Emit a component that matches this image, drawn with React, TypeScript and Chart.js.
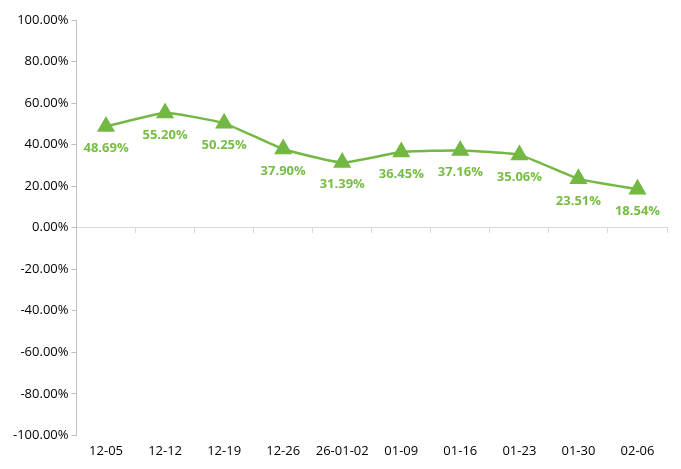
import React, { useEffect, useRef } from "react";
import { Chart, registerables } from "chart.js";

Chart.register(...registerables);

const categories = ["12-05", "12-12", "12-19", "12-26", "26-01-02", "01-09", "01-16", "01-23", "01-30", "02-06"];
const values = [48.69, 55.2, 50.25, 37.9, 31.39, 36.45, 37.16, 35.06, 23.51, 18.54];
const yMin = -100;
const yMax = 100;
const yStep = 20;

const FONT = "'Open Sans', 'Noto Sans', sans-serif";
const GREEN = "#72b843";
const LABEL_GREEN = "#77bd45";

const labelPlugin = {
  id: "pointLabels",
  afterDatasetsDraw(chart: any) {
    const ctx = chart.ctx;
    const meta = chart.getDatasetMeta(0);
    ctx.save();
    ctx.font = `bold 13px ${FONT}`;
    ctx.fillStyle = LABEL_GREEN;
    ctx.textAlign = "center";
    ctx.textBaseline = "middle";
    meta.data.forEach((pt: any, i: number) => {
      ctx.fillText(values[i].toFixed(2) + "%", pt.x, pt.y + 22);
    });
    ctx.restore();
  },
};

export default function App() {
  const ref = useRef<HTMLCanvasElement | null>(null);
  useEffect(() => {
    if (!ref.current) return;
    const chart = new Chart(ref.current, {
      type: "line",
      data: {
        labels: categories,
        datasets: [
          {
            data: values,
            borderColor: GREEN,
            backgroundColor: GREEN,
            borderWidth: 2.5,
            pointStyle: "triangle",
            pointRadius: 8,
            pointHoverRadius: 8,
            pointBackgroundColor: GREEN,
            pointBorderColor: GREEN,
            tension: 0.15,
            xAxisID: "x",
          },
        ],
      },
      options: {
        animation: false,
        responsive: true,
        maintainAspectRatio: false,
        layout: { padding: { top: 20, right: 14, left: 10, bottom: 10 } },
        plugins: { legend: { display: false }, tooltip: { enabled: false } },
        scales: {
          x: {
            type: "category",
            position: "bottom",
            offset: true,
            grid: { display: false },
            border: { display: false },
            ticks: { color: "#000", font: { family: FONT, size: 13 }, padding: 0, maxRotation: 0, autoSkip: false },
          },
          x0: {
            type: "category",
            axis: "x",
            position: { y: 0 } as any,
            offset: true,
            grid: { drawOnChartArea: false, tickLength: 5, color: "#d9d9d9", offset: true },
            border: { display: true, color: "#d9d9d9" },
            ticks: { display: false },
          },
          y: {
            min: yMin,
            max: yMax,
            ticks: {
              stepSize: yStep,
              color: "#000",
              font: { family: FONT, size: 13 },
              padding: 3,
              callback: (v: any) => Number(v).toFixed(2) + "%",
            },
            grid: { drawOnChartArea: false, tickLength: 5, color: "#bfbfbf" },
            border: { display: true, color: "#bfbfbf" },
          },
        },
      },
      plugins: [labelPlugin],
    });
    return () => chart.destroy();
  }, []);
  return (
    <div style={{ position: "fixed", left: 0, top: 0, width: 681, height: 469, background: "#fff" }}>
      <canvas ref={ref} />
    </div>
  );
}
